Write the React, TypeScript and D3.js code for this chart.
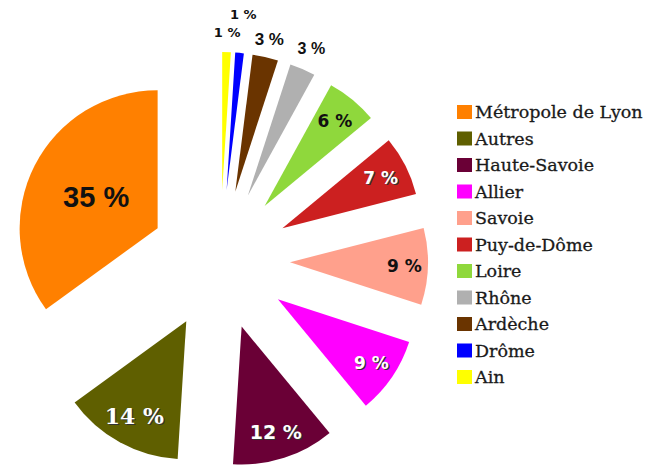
import React from "react";
import * as d3 from "d3";

// Legend order (largest first)
const names = [
  "Métropole de Lyon",
  "Autres",
  "Haute-Savoie",
  "Allier",
  "Savoie",
  "Puy-de-Dôme",
  "Loire",
  "Rhône",
  "Ardèche",
  "Drôme",
  "Ain",
];
const values = [35, 14, 12, 9, 9, 7, 6, 3, 3, 1, 1];
const colors = [
  "#ff8000",
  "#5f5f00",
  "#6a0036",
  "#ff00ff",
  "#ffa08c",
  "#cc2020",
  "#8fd83c",
  "#b0b0b0",
  "#6a3400",
  "#0000ff",
  "#ffff00",
];

// label styling (per slice, legend order)
const labelDistFactor = [0.5, 0.78, 0.8, 0.82, 0.83, 0.8, 0.8, 1.16, 1.13, 1.28, 1.14];
const labelFill = ["#111", "#fff", "#fff", "#fff", "#111", "#fff", "#111", "#111", "#111", "#111", "#111"];
const labelSize = [29, 22, 19, 17, 17, 17, 17, 16, 17, 13, 13];
const labelFont = [
  "Liberation Sans, Arial, sans-serif",
  "DejaVu Serif, serif",
  "DejaVu Sans, sans-serif",
  "DejaVu Sans, sans-serif",
  "DejaVu Sans, sans-serif",
  "DejaVu Sans, sans-serif",
  "DejaVu Sans, sans-serif",
  "Liberation Sans, Arial, sans-serif",
  "Liberation Sans, Arial, sans-serif",
  "DejaVu Sans, sans-serif",
  "DejaVu Sans, sans-serif",
];
const labelWeight = [700, 700, 700, 700, 700, 700, 600, 700, 700, 700, 700];

const W = 660;
const H = 466;
const cx = 220;
const cy = 260;
const R = 138;
const explode = 70;

export default function App() {
  const idx = d3.range(names.length).reverse(); // pie starts with Ain at 12 o'clock
  const pie = d3
    .pie<number>()
    .sort(null)
    .value((i) => values[i])
    .startAngle(0)
    .endAngle(2 * Math.PI);
  const arcs = pie(idx);
  const arc = d3.arc<d3.PieArcDatum<number>>().innerRadius(0).outerRadius(R);

  return (
    <svg
      width={W}
      height={H}
      style={{ position: "absolute", left: 0, top: 0, background: "#fff" }}
    >
      {arcs.map((a) => {
        const i = a.data;
        const mid = (a.startAngle + a.endAngle) / 2;
        const dx = Math.sin(mid);
        const dy = -Math.cos(mid);
        const ox = cx + dx * explode;
        const oy = cy + dy * explode;
        const ld = R * labelDistFactor[i];
        const lx = ox + dx * ld;
        const ly = oy + dy * ld;
        const white = labelFill[i] === "#fff";
        const txt = `${values[i]} %`;
        return (
          <g key={names[i]}>
            <path d={arc(a) || ""} transform={`translate(${ox},${oy})`} fill={colors[i]} />
            {white && (
              <text
                x={lx + 1.2}
                y={ly + 1.2}
                textAnchor="middle"
                dominantBaseline="central"
                fontFamily={labelFont[i]}
                fontSize={labelSize[i]}
                fontWeight={labelWeight[i]}
                fill="#333"
              >
                {txt}
              </text>
            )}
            <text
              x={lx}
              y={ly}
              textAnchor="middle"
              dominantBaseline="central"
              fontFamily={labelFont[i]}
              fontSize={labelSize[i]}
              fontWeight={labelWeight[i]}
              fill={labelFill[i]}
            >
              {txt}
            </text>
          </g>
        );
      })}
      <g>
        {names.map((n, i) => {
          const y = 112 + i * 26.5;
          return (
            <g key={n}>
              <rect x={457} y={y - 7} width={15} height={14} fill={colors[i]} />
              <text
                x={475}
                y={y}
                dominantBaseline="central"
                fontFamily="DejaVu Serif, serif"
                fontSize={17.5}
                fill="#1a1a1a"
                stroke="#1a1a1a"
                strokeWidth={0.3}
              >
                {n}
              </text>
            </g>
          );
        })}
      </g>
    </svg>
  );
}
